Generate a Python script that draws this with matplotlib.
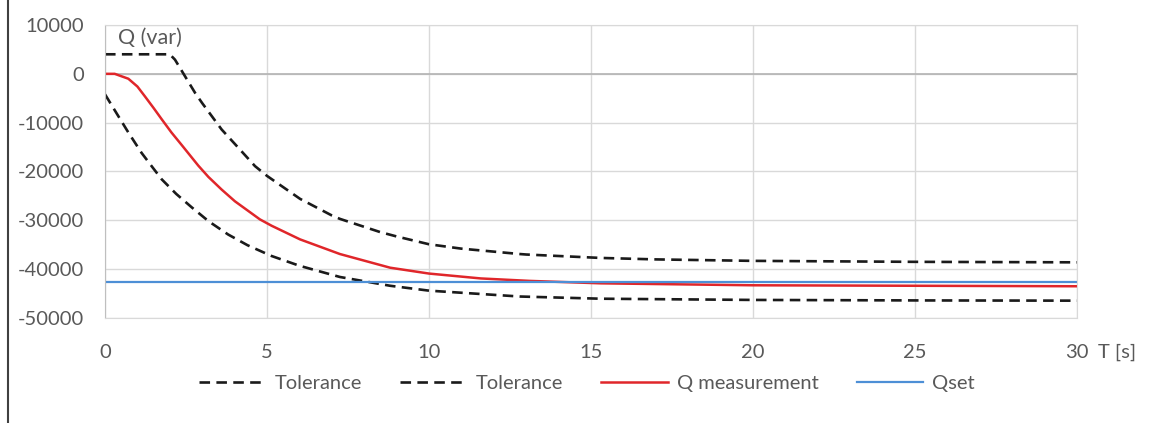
import matplotlib
matplotlib.use('Agg')
import matplotlib.pyplot as plt
from matplotlib.lines import Line2D

plt.rcParams['font.family'] = ['Lato', 'DejaVu Sans']
plt.rcParams['axes.unicode_minus'] = False

# Tolerance band, upper edge
t_upper = [0, 2.0, 2.16, 2.78, 3.0, 3.6, 4.0, 4.63, 5.0, 6.02, 7.0, 7.25, 8.49, 9.0,
           10.0, 11.0, 12.8, 13.0, 15.3, 17.0, 20.0, 25.0, 30.0]
q_upper = [4000, 4000, 2900, -3900, -6000, -11400, -14300, -18900, -20900, -25600,
           -29000, -29700, -32400, -33300, -34900, -35800, -36900, -37000, -37700,
           -38000, -38300, -38500, -38600]

# Tolerance band, lower edge
t_lower = [0, 0.35, 0.72, 1.13, 1.45, 1.75, 2.2, 2.67, 3.2, 3.8, 4.4, 5.14, 6.0, 7.25,
           8.8, 10.0, 12.8, 15.3, 20.0, 25.0, 30.0]
q_lower = [-4200, -8000, -12000, -16200, -19000, -21600, -24600, -27300, -30200,
           -32900, -35100, -37300, -39300, -41600, -43400, -44400, -45600, -46050,
           -46300, -46400, -46450]

# Measured reactive power
t_meas = [0, 0.3, 0.72, 1.0, 1.23, 1.5, 1.75, 2.05, 2.37, 2.88, 3.19, 3.6, 4.01, 4.78,
          5.14, 6.02, 7.25, 8.8, 10.0, 11.6, 13.1, 15.3, 20.0, 25.0, 30.0]
q_meas = [0, 0, -1000, -2600, -4600, -7000, -9300, -12000, -14600, -18800, -21100,
          -23700, -26100, -29800, -31100, -33900, -36900, -39700, -40900, -41900,
          -42400, -42900, -43300, -43400, -43500]

# Setpoint
t_set = [0, 30]
q_set = [-42600, -42600]

x_ticks = [0, 5, 10, 15, 20, 25, 30]
y_ticks = [-50000, -40000, -30000, -20000, -10000, 0, 10000]

fs = 14.5
grey = '#595959'

fig = plt.figure(figsize=(11.56, 4.23), dpi=100)
ax = fig.add_axes([105 / 1156, 1 - 318 / 423, (1077 - 105) / 1156, (318 - 25) / 423])

dash = (0, (4, 2.4))
ax.plot(t_upper, q_upper, color='#1a1a1a', lw=1.9, linestyle=dash, label='Tolerance')
ax.plot(t_lower, q_lower, color='#1a1a1a', lw=1.9, linestyle=dash, label='Tolerance')
ax.plot(t_meas, q_meas, color='#e0262a', lw=1.8, label='Q measurement')
ax.plot(t_set, q_set, color='#4d8fd6', lw=1.6, label='Qset')

ax.set_xlim(0, 30)
ax.set_ylim(-50000, 10000)
ax.set_xticks(x_ticks)
ax.set_yticks(y_ticks)
ax.grid(True, color='#d9d9d9', lw=1.0)
ax.set_axisbelow(True)
ax.axhline(0, color='#b3b3b3', lw=1.2, zorder=1)
for side in ['top', 'bottom', 'right']:
    ax.spines[side].set_color('#d9d9d9')
ax.spines['left'].set_color('#bfbfbf')
ax.tick_params(length=0, labelsize=fs, colors=grey)
ax.tick_params(axis='y', pad=15)
ax.tick_params(axis='x', pad=19)

ax.text(0.4, 7300, 'Q (var)', fontsize=fs + 1, color=grey, va='center', ha='left')
fig.text(1098 / 1156, 1 - 352 / 423, 'T [s]', fontsize=fs, color=grey,
         va='center', ha='left')

fig.legend(loc='center', bbox_to_anchor=(587 / 1156, 1 - 383 / 423), ncol=4,
           frameon=False, fontsize=fs, handlelength=3.3, handletextpad=0.45,
           columnspacing=1.9, labelcolor=grey)

# chart border on the left
fig.add_artist(Line2D([8 / 1156, 8 / 1156], [0, 1], color='#404040', lw=1.5))

plt.savefig('out.png', dpi=100)
